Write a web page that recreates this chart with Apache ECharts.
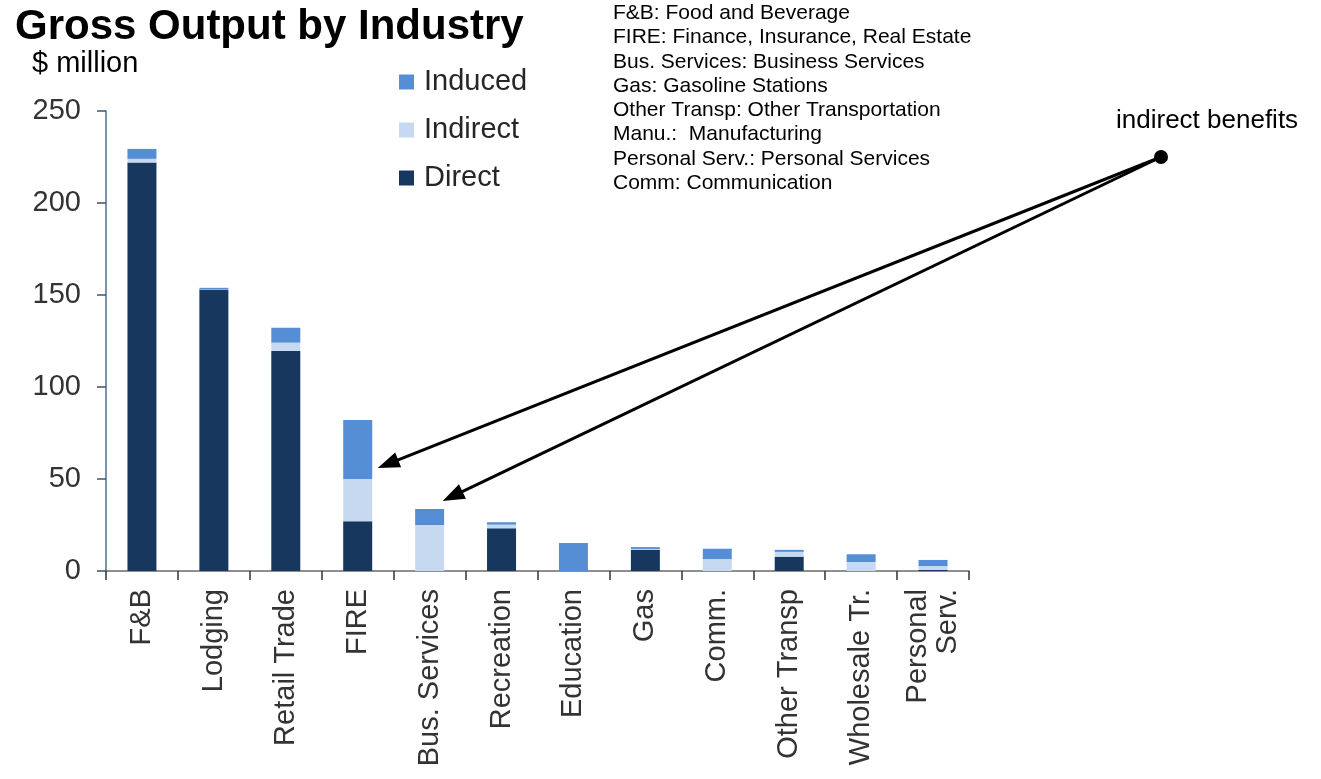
<!DOCTYPE html>
<html>
<head>
<meta charset="utf-8">
<script src="https://cdn.jsdelivr.net/npm/echarts@6/dist/echarts.min.js"></script>
<style>
  html, body { margin: 0; padding: 0; background: #fff; }
  #chart { width: 1321px; height: 779px; }
</style>
</head>
<body>
<div id="chart"></div>
<script>
// Gross output by industry, $ million, split by effect type
const categories = ['F&B', 'Lodging', 'Retail Trade', 'FIRE', 'Bus. Services', 'Recreation',
  'Education', 'Gas', 'Comm.', 'Other Transp', 'Wholesale Tr.', 'Personal\nServ.'];
const direct   = [222, 152.7, 119.6, 27, 0, 23.2, 0, 11.6, 0, 7.8, 0, 0.6];
const indirect = [2, 0.2, 4.5, 23, 25, 2, 0, 0.4, 6.5, 2.6, 4.9, 2.1];
const induced  = [5.4, 1, 8.1, 32, 8.7, 1.3, 15.2, 1, 5.6, 1.1, 4.2, 3.3];
const yTicks = { min: 0, max: 250, interval: 50 };

const abbreviations = [
  'F&B: Food and Beverage',
  'FIRE: Finance, Insurance, Real Estate',
  'Bus. Services: Business Services',
  'Gas: Gasoline Stations',
  'Other Transp: Other Transportation',
  'Manu.:  Manufacturing',
  'Personal Serv.: Personal Services',
  'Comm: Communication'
];

// Arrow targets: [category, value] points next to the FIRE and Bus. Services bars
const arrowTargets = [['FIRE', 56], ['Bus. Services', 38]];
const arrowOffsetsX = [20, 13];

const FONT = '"Liberation Sans", Arial, sans-serif';
const COLORS = { direct: '#17375E', indirect: '#C6D9F1', induced: '#558ED5' };

const chart = echarts.init(document.getElementById('chart'));

const barBase = {
  type: 'bar',
  stack: 'total',
  barWidth: 29,
  emphasis: { disabled: true }
};

chart.setOption({
  animation: false,
  textStyle: { fontFamily: FONT },
  title: [
    { text: 'Gross Output by Industry', left: 10, top: 1,
      textStyle: { fontFamily: FONT, fontSize: 42, fontWeight: 'bold', color: '#000' } },
    { text: '$ million', left: 27, top: 44,
      textStyle: { fontFamily: FONT, fontSize: 29, fontWeight: 'normal', color: '#000' } }
  ],
  legend: {
    orient: 'vertical',
    left: 394,
    top: 60,
    data: ['Induced', 'Indirect', 'Direct'],
    icon: 'rect',
    itemWidth: 15,
    itemHeight: 15,
    itemGap: 14,
    selectedMode: false,
    textStyle: { fontFamily: FONT, fontSize: 29, color: '#262626', lineHeight: 34, padding: [0, 0, 0, 5] }
  },
  grid: { left: 106, right: 352, top: 111, bottom: 208 },
  xAxis: {
    type: 'category',
    data: categories,
    axisLine: { lineStyle: { color: '#6b6b6b', width: 1.5 } },
    axisTick: { show: true, length: 9, alignWithLabel: false, lineStyle: { color: '#333', width: 1.5 } },
    axisLabel: {
      rotate: 90, margin: 18, interval: 0,
      fontFamily: FONT, fontSize: 29, color: '#333', lineHeight: 30
    }
  },
  yAxis: {
    type: 'value',
    min: yTicks.min, max: yTicks.max, interval: yTicks.interval,
    splitLine: { show: false },
    axisLine: { show: true, lineStyle: { color: '#4f6f86', width: 1.5 } },
    axisTick: { show: true, length: 9, lineStyle: { color: '#3b5670', width: 1.5 } },
    axisLabel: { margin: 25, fontFamily: FONT, fontSize: 29, color: '#333' }
  },
  series: [
    Object.assign({}, barBase, { name: 'Direct', data: direct, itemStyle: { color: COLORS.direct } }),
    Object.assign({}, barBase, { name: 'Indirect', data: indirect, itemStyle: { color: COLORS.indirect } }),
    Object.assign({}, barBase, { name: 'Induced', data: induced, itemStyle: { color: COLORS.induced } })
  ]
});

// Annotation: abbreviations list, "indirect benefits" label and two arrows
const dot = [1161, 157];
const graphics = [
  {
    type: 'text', left: 613, top: 1,
    style: { text: abbreviations.join('\n'), font: '21px ' + FONT, fill: '#000', lineHeight: 24.3 }
  },
  {
    type: 'text', left: 1116, top: 108,
    style: { text: 'indirect benefits', font: '26px ' + FONT, fill: '#000' }
  },
  { type: 'circle', shape: { cx: dot[0], cy: dot[1], r: 7 }, style: { fill: '#000' } }
];

arrowTargets.forEach(function (t, i) {
  const p = chart.convertToPixel({ gridIndex: 0 }, t);
  const tip = [p[0] + arrowOffsetsX[i], p[1]];
  const dx = tip[0] - dot[0], dy = tip[1] - dot[1];
  const len = Math.sqrt(dx * dx + dy * dy);
  const ux = dx / len, uy = dy / len;
  const headLen = 22, headHalf = 8;
  const base = [tip[0] - ux * headLen, tip[1] - uy * headLen];
  const nx = -uy, ny = ux;
  graphics.push({
    type: 'line',
    shape: { x1: dot[0], y1: dot[1], x2: base[0] + ux * 2, y2: base[1] + uy * 2 },
    style: { stroke: '#000', lineWidth: 3 }
  });
  graphics.push({
    type: 'polygon',
    shape: { points: [tip, [base[0] + nx * headHalf, base[1] + ny * headHalf], [base[0] - nx * headHalf, base[1] - ny * headHalf]] },
    style: { fill: '#000' }
  });
});

chart.setOption({ graphic: graphics });
</script>
</body>
</html>
